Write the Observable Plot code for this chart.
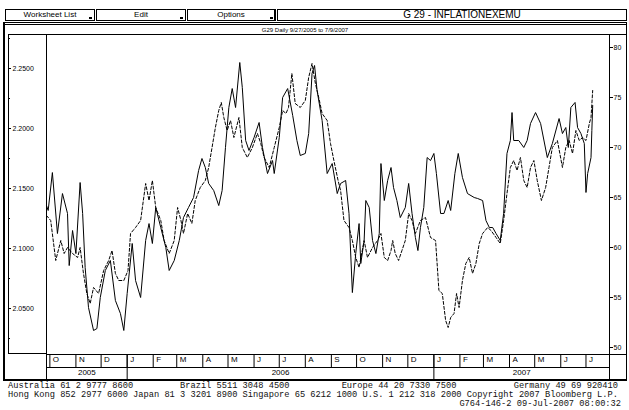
<!DOCTYPE html>
<html><head><meta charset="utf-8">
<script src="https://cdn.jsdelivr.net/npm/d3@7"></script>
<script src="https://cdn.jsdelivr.net/npm/@observablehq/plot@0.6"></script>
<style>
html,body{margin:0;padding:0;background:#fff;}
#wrap{position:relative;width:629px;height:410px;overflow:hidden;background:#fff;font-family:"Liberation Sans",Arial,sans-serif;color:#000;}
#chart{position:absolute;left:0;top:0;}
.ln{position:absolute;background:#000;}
.btn{position:absolute;top:9px;height:12px;border:1px solid #000;box-sizing:border-box;font-size:8px;line-height:10px;text-align:center;background:#fff;}
.txt{position:absolute;white-space:pre;}
.foot{position:absolute;font-family:"Liberation Mono","DejaVu Sans Mono",monospace;font-size:8.7px;line-height:9px;white-space:pre;color:#111;}
</style></head>
<body>
<div id="wrap"><div id="chart"></div></div>
<script>
// ---- data ----
const solidDates = ["2005-09-27","2005-09-29","2005-10-04","2005-10-10","2005-10-16","2005-10-22","2005-10-24","2005-10-28","2005-11-01","2005-11-06","2005-11-09","2005-11-12","2005-11-16","2005-11-22","2005-11-26","2005-11-30","2005-12-06","2005-12-12","2005-12-18","2005-12-24","2005-12-28","2006-01-01","2006-01-07","2006-01-11","2006-01-17","2006-01-23","2006-01-27","2006-01-31","2006-02-04","2006-02-10","2006-02-16","2006-02-20","2006-02-26","2006-03-04","2006-03-09","2006-03-15","2006-03-21","2006-03-27","2006-03-31","2006-04-04","2006-04-08","2006-04-14","2006-04-20","2006-04-24","2006-04-28","2006-05-02","2006-05-06","2006-05-10","2006-05-15","2006-05-18","2006-05-22","2006-05-26","2006-06-01","2006-06-07","2006-06-11","2006-06-17","2006-06-23","2006-06-25","2006-07-01","2006-07-05","2006-07-11","2006-07-17","2006-07-22","2006-07-26","2006-08-01","2006-08-05","2006-08-09","2006-08-12","2006-08-15","2006-08-21","2006-08-27","2006-09-02","2006-09-08","2006-09-12","2006-09-18","2006-09-22","2006-09-26","2006-09-30","2006-10-04","2006-10-06","2006-10-10","2006-10-12","2006-10-16","2006-10-20","2006-10-24","2006-10-28","2006-10-30","2006-11-03","2006-11-07","2006-11-11","2006-11-14","2006-11-18","2006-11-22","2006-11-28","2006-12-02","2006-12-06","2006-12-10","2006-12-13","2006-12-16","2006-12-20","2006-12-24","2006-12-28","2007-01-01","2007-01-04","2007-01-09","2007-01-13","2007-01-18","2007-01-21","2007-01-26","2007-01-30","2007-02-04","2007-02-10","2007-02-18","2007-02-22","2007-02-28","2007-03-04","2007-03-08","2007-03-12","2007-03-16","2007-03-21","2007-03-25","2007-03-29","2007-04-02","2007-04-04","2007-04-06","2007-04-12","2007-04-18","2007-04-22","2007-04-26","2007-05-02","2007-05-08","2007-05-16","2007-05-22","2007-05-30","2007-06-03","2007-06-07","2007-06-10","2007-06-13","2007-06-18","2007-06-21","2007-06-25","2007-06-29","2007-07-01","2007-07-03","2007-07-07","2007-07-08","2007-07-09"];
const solidValues = [2.1358,2.1317,2.1633,2.1125,2.1458,2.1292,2.0858,2.1150,2.0958,2.1550,2.1292,2.0842,2.0508,2.0317,2.0333,2.0592,2.0817,2.0900,2.0567,2.0458,2.0317,2.0625,2.1042,2.0733,2.0592,2.1067,2.1208,2.1042,2.1342,2.1175,2.1008,2.0817,2.0900,2.1067,2.1258,2.1342,2.1425,2.1650,2.1750,2.1675,2.1542,2.1483,2.1358,2.1483,2.1842,2.2175,2.2333,2.2175,2.2550,2.2342,2.1900,2.1817,2.1925,2.2050,2.1842,2.1625,2.1733,2.1625,2.1925,2.2258,2.2333,2.2108,2.1900,2.1775,2.1792,2.1958,2.2458,2.2525,2.2317,2.2067,2.1625,2.1708,2.1458,2.1542,2.1567,2.1292,2.0633,2.0958,2.1208,2.0875,2.1067,2.1400,2.1342,2.1067,2.0958,2.1125,2.1708,2.1400,2.1567,2.1675,2.1508,2.1400,2.1258,2.1342,2.1542,2.1292,2.1092,2.0983,2.1175,2.1342,2.1758,2.1733,2.1792,2.1625,2.1292,2.1292,2.1400,2.1317,2.1625,2.1792,2.1592,2.1458,2.1425,2.1417,2.1400,2.1233,2.1175,2.1175,2.1125,2.1067,2.1292,2.1792,2.1900,2.2133,2.1900,2.1900,2.1842,2.1900,2.2042,2.2133,2.2042,2.1758,2.1875,2.2083,2.1958,2.2008,2.1842,2.2175,2.2217,2.2008,2.1958,2.1875,2.1467,2.1625,2.1758,2.1983,2.2192];

const dashDates = ["2005-09-27","2005-10-02","2005-10-08","2005-10-14","2005-10-18","2005-10-22","2005-10-28","2005-11-03","2005-11-06","2005-11-10","2005-11-14","2005-11-18","2005-11-22","2005-11-28","2005-12-04","2005-12-10","2005-12-14","2005-12-18","2005-12-22","2005-12-28","2006-01-02","2006-01-05","2006-01-11","2006-01-17","2006-01-23","2006-01-27","2006-01-31","2006-02-04","2006-02-10","2006-02-14","2006-02-20","2006-02-26","2006-03-02","2006-03-06","2006-03-09","2006-03-14","2006-03-19","2006-03-23","2006-03-29","2006-04-04","2006-04-08","2006-04-12","2006-04-16","2006-04-20","2006-04-23","2006-04-26","2006-04-30","2006-05-04","2006-05-08","2006-05-14","2006-05-18","2006-05-24","2006-05-30","2006-06-05","2006-06-09","2006-06-13","2006-06-19","2006-06-25","2006-07-01","2006-07-05","2006-07-09","2006-07-12","2006-07-16","2006-07-20","2006-07-26","2006-08-01","2006-08-05","2006-08-09","2006-08-13","2006-08-17","2006-08-21","2006-08-27","2006-08-31","2006-09-04","2006-09-09","2006-09-12","2006-09-16","2006-09-22","2006-09-26","2006-09-30","2006-10-04","2006-10-10","2006-10-14","2006-10-20","2006-10-26","2006-10-30","2006-11-03","2006-11-07","2006-11-11","2006-11-13","2006-11-16","2006-11-20","2006-11-24","2006-11-28","2006-12-02","2006-12-06","2006-12-10","2006-12-16","2006-12-22","2006-12-28","2007-01-03","2007-01-07","2007-01-11","2007-01-15","2007-01-18","2007-01-21","2007-01-25","2007-01-28","2007-01-31","2007-02-04","2007-02-08","2007-02-12","2007-02-16","2007-02-20","2007-02-24","2007-02-28","2007-03-06","2007-03-10","2007-03-16","2007-03-21","2007-03-25","2007-03-29","2007-04-02","2007-04-06","2007-04-10","2007-04-14","2007-04-18","2007-04-22","2007-04-26","2007-04-30","2007-05-04","2007-05-09","2007-05-14","2007-05-18","2007-05-22","2007-05-28","2007-06-03","2007-06-07","2007-06-11","2007-06-15","2007-06-19","2007-06-23","2007-06-27","2007-07-01","2007-07-05","2007-07-07","2007-07-09"];
const dashValues = [63.2,62.7,58.7,60.7,59.4,60.0,59.4,59.0,60.0,57.4,55.4,54.4,56.0,55.4,57.7,58.7,59.7,57.4,56.7,56.7,57.7,61.4,62.0,62.7,66.4,64.7,66.7,64.0,62.7,60.7,59.4,60.7,64.0,62.7,61.4,63.4,62.4,64.7,66.0,66.7,68.0,70.0,72.0,73.7,74.5,73.0,71.7,72.7,71.0,73.0,70.0,69.0,70.0,71.4,70.4,69.0,68.0,70.0,72.0,73.7,73.4,74.0,77.4,74.4,74.0,74.7,77.0,78.4,76.4,75.0,73.4,72.7,70.4,68.7,66.7,65.7,62.7,62.0,60.7,59.0,58.0,60.7,59.0,60.0,60.7,61.4,59.0,58.7,59.7,60.7,59.4,58.7,59.7,60.7,63.4,62.7,61.4,62.7,63.0,61.0,60.7,55.7,55.4,52.7,52.0,53.0,53.4,55.4,54.0,56.7,58.4,59.0,57.4,58.4,60.4,61.4,62.0,61.7,61.0,60.4,62.7,65.4,68.0,68.7,67.7,69.0,66.7,66.0,68.0,68.7,66.7,64.7,66.0,68.0,70.0,70.7,68.0,70.0,70.7,69.4,71.7,70.7,71.0,70.7,72.4,73.0,75.7];

const leftTicks = [2.05, 2.10, 2.15, 2.20, 2.25];
const leftMinorTicks = [2.025, 2.075, 2.125, 2.175, 2.225, 2.275];
const rightTicks = [50, 55, 60, 65, 70, 75, 80];
const monthStarts = ["2005-10-01","2005-11-01","2005-12-01","2006-01-01","2006-02-01","2006-03-01","2006-04-01","2006-05-01","2006-06-01","2006-07-01","2006-08-01","2006-09-01","2006-10-01","2006-11-01","2006-12-01","2007-01-01","2007-02-01","2007-03-01","2007-04-01","2007-05-01","2007-06-01","2007-07-01"];
const monthLabels = ["O","N","D","J","F","M","A","M","J","J","A","S","O","N","D","J","F","M","A","M","J","J"];
const yearStarts = ["2006-01-01","2007-01-01"];
const yearLabels = ["2005","2006","2007"];

const xDomain = [new Date("2005-09-27"), new Date("2007-07-29")];
const leftDomain = [2.0117, 2.2775];
const rightDomain = [49.3, 81.2];

// ---- build ----
const toLeft = d3.scaleLinear().domain(rightDomain).range(leftDomain);
const solid = solidDates.map((d, i) => ({date: new Date(d), v: solidValues[i]}));
const dash = dashDates.map((d, i) => ({date: new Date(d), v: toLeft(dashValues[i])}));
const months = monthStarts.map(d => new Date(d));
const years = yearStarts.map(d => new Date(d));
const yearSpans = [[xDomain[0], years[0]], [years[0], years[1]], [years[1], xDomain[1]]];
const yearMid = yearSpans.map(([a, b]) => new Date((+a + +b) / 2));

const chart = Plot.plot({
  width: 629, height: 410,
  marginLeft: 46, marginRight: 20, marginTop: 35, marginBottom: 56,
  style: {background: "transparent", fontFamily: "Liberation Sans, Arial, sans-serif", color: "#000"},
  x: {type: "utc", domain: xDomain, axis: null, label: null},
  y: {domain: leftDomain, axis: null, label: null},
  marks: [
    Plot.lineY(dash, {x: "date", y: "v", stroke: "#000", strokeWidth: 1, strokeDasharray: "3,2"}),
    Plot.lineY(solid, {x: "date", y: "v", stroke: "#000", strokeWidth: 1}),
    // left axis (labels sit in the left box)
    Plot.axisY(leftTicks, {anchor: "left", label: null, tickSize: 0, tickPadding: 0, textAnchor: "start", dx: -34, fontSize: 7, tickFormat: d => d.toFixed(4)}),
    Plot.ruleY(leftTicks, {insetRight: 560, dx: -38, stroke: "#000"}),
    Plot.ruleY(leftMinorTicks, {insetRight: 561, dx: -38, stroke: "#000"}),
    // right axis
    Plot.axisY(rightTicks.map(d => toLeft(d)), {anchor: "right", label: null, tickSize: 3, tickPadding: 1, fontSize: 7, tickFormat: (d, i) => String(rightTicks[i])}),
    // month row
    Plot.axisX(months, {anchor: "bottom", label: null, tickSize: 13, tickPadding: 0, tickFormat: () => ""}),
    Plot.text(months, {x: d => d, text: (d, i) => monthLabels[i], frameAnchor: "bottom", dx: 3, dy: 7, textAnchor: "start", fontSize: 8}),
    // year row
    Plot.axisX(years, {anchor: "bottom", label: null, tickSize: 26, tickPadding: 0, tickFormat: () => ""}),
    Plot.text(yearMid, {x: d => d, text: (d, i) => yearLabels[i], frameAnchor: "bottom", dy: 20, fontSize: 8})
  ]
});
document.getElementById("chart").appendChild(chart);

// ---- terminal chrome ----
const wrap = document.getElementById("wrap");
function L(x, y, w, h) { const e = document.createElement("div"); e.className = "ln"; Object.assign(e.style, {left: x + "px", top: y + "px", width: w + "px", height: h + "px"}); wrap.appendChild(e); }
function B(x, w, label, thick) { const e = document.createElement("div"); e.className = "btn"; Object.assign(e.style, {left: x + "px", width: w + "px"}); if (thick) e.style.borderRight = "2px solid #000"; e.textContent = label; wrap.appendChild(e); }
function T(s, x, y, size, anchor) { const e = document.createElement("div"); e.className = "txt"; e.textContent = s; Object.assign(e.style, {left: x + "px", top: y + "px", fontSize: size + "px", lineHeight: size + "px"}); if (anchor === "middle") e.style.transform = "translateX(-50%)"; wrap.appendChild(e); }
function F(s, y, right) { const e = document.createElement("div"); e.className = "foot"; e.textContent = s; e.style.top = y + "px"; if (right) { e.style.right = "8px"; } else { e.style.left = "8px"; } wrap.appendChild(e); }

B(5, 90, "Worksheet List"); B(96, 90, "Edit"); B(187, 89, "Options", true);
L(89, 17, 3, 2); L(180, 17, 3, 2); L(270, 17, 3, 2);
B(277, 350, "");
T("G 29 - INFLATIONEXEMU", 462, 10, 10, "middle");
L(3, 22, 624, 1); L(3, 24, 624, 1);
L(3, 22, 2, 359); L(626, 22, 1, 359); L(3, 379, 624, 2);
T("G29 Daily 9/27/2005 to 7/9/2007", 305, 27, 6, "middle");
L(8, 34, 619, 1);
L(8, 34, 1, 320); L(8, 353, 38, 1);
L(46, 34, 1, 346); L(609, 34, 1, 346);
L(46, 354, 581, 1); L(46, 367, 563, 1);

F("Australia 61 2 9777 8600         Brazil 5511 3048 4500          Europe 44 20 7330 7500           Germany 49 69 920410", 382);
F("Hong Kong 852 2977 6000 Japan 81 3 3201 8900 Singapore 65 6212 1000 U.S. 1 212 318 2000 Copyright 2007 Bloomberg L.P.", 391);
F("G764-146-2 09-Jul-2007 08:00:32", 400, true);
</script>
</body></html>
